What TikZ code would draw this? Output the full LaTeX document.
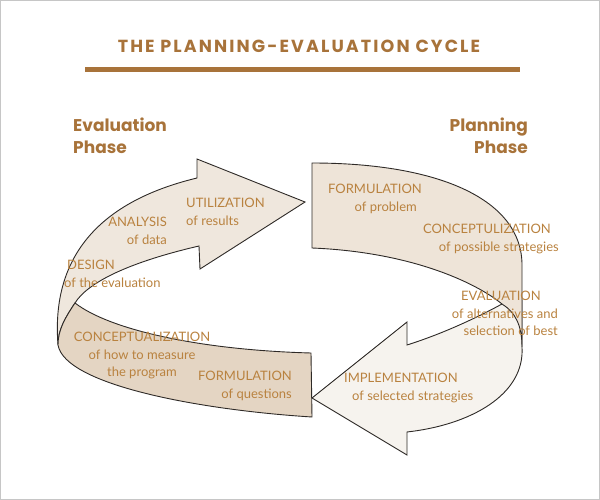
\documentclass[tikz,border=0pt]{standalone}
\usepackage{fontspec}
\setmainfont{Poppins}
\newfontfamily\titlefont[LetterSpace=12]{Poppins}
\newfontfamily\stagefont{Lato}

\definecolor{brownhead}{HTML}{A8733A}
\definecolor{browntext}{HTML}{B9823F}
\definecolor{lightfill}{HTML}{EFE7DD}
\definecolor{bandfill}{HTML}{EEE4D8}
\definecolor{darkfill}{HTML}{E4D5C3}
\definecolor{palefill}{HTML}{F6F3EE}
\definecolor{edgecol}{HTML}{2E2A27}

\begin{document}
\begin{tikzpicture}[x=1pt,y=-1pt,
    ribbon/.style={draw=edgecol,line width=0.9pt},
    stage text/.style={text=browntext,inner sep=0pt,font=\stagefont\fontsize{13}{17.5}\selectfont},
    phase text/.style={text=brownhead,inner sep=0pt,font=\bfseries\fontsize{17}{22}\selectfont}]
  \useasboundingbox (0,0) rectangle (600,500);
  \draw[gray!45,line width=1pt] (0.5,0.5) rectangle (599.5,499.5);

  % title and rule
  \node[text=brownhead,font=\titlefont\bfseries\fontsize{17.5}{20}\selectfont] (title) at (299,46) {THE PLANNING-EVALUATION CYCLE};
  \draw[brownhead,line width=5pt] (85,70) -- (520,70);

  % evaluation arrow (top left)
  \filldraw[ribbon,fill=lightfill] (58,345) .. controls (52,270) and (85,205) .. (197,178)
    -- (197,159) -- (305,202) -- (200,269) -- (199,246)
    .. controls (130,262) and (88,282) .. (75,303)
    .. controls (65,318) and (58,330) .. (58,345) -- cycle;
  % back of the ribbon (bottom left)
  \filldraw[ribbon,fill=darkfill] (75,303) .. controls (110,330) and (200,350) .. (311,353)
    -- (312,417) .. controls (200,410) and (65,385) .. (58,345)
    .. controls (58,330) and (65,318) .. (75,303) -- cycle;
  % planning arrow (bottom right)
  \filldraw[ribbon,fill=palefill] (312,398) -- (407,322) -- (407,345)
    .. controls (445,333) and (480,316) .. (502,304) -- (522,300) -- (522,347)
    .. controls (525,395) and (470,425) .. (407,432) -- (407,455) -- cycle;
  % planning band (top right)
  \filldraw[ribbon,fill=bandfill] (312,163) .. controls (440,163) and (522,200) .. (522,265)
    -- (522,347) .. controls (522,325) and (515,312) .. (502,304)
    .. controls (475,282) and (410,252) .. (312,248) -- cycle;

  % phase names
  \node[phase text,anchor=north west,align=left] (evalphase) at (73,118) {Evaluation\\Phase};
  \node[phase text,anchor=north east,align=right] (planphase) at (528,118) {Planning\\Phase};

  % stages
  \node[stage text,anchor=north west,align=left] (utilize) at (186,198) {UTILIZATION\\of results};
  \node[stage text,anchor=north east,align=right] (analyse) at (167,217) {ANALYSIS\\of data};
  \node[stage text,anchor=north west,align=left] (design) at (64,260) {\hspace*{3pt}DESIGN\\of the evaluation};
  \node[stage text,anchor=north,align=center] (concmeas) at (142,332) {CONCEPTUALIZATION\\of how to measure\\the program};
  \node[stage text,anchor=north east,align=right] (formq) at (292,371) {FORMULATION\\of questions};
  \node[stage text,anchor=north east,align=right] (formp) at (422,184) {FORMULATION\\of problem\hspace*{5pt}};
  \node[stage text,anchor=north east,align=right] (concstrat) at (559,224) {CONCEPTULIZATION\hspace*{8pt}\\of possible strategies};
  \node[stage text,anchor=north east,align=right] (evalalt) at (558,291) {EVALUATION\hspace*{17pt}\\of alternatives and\\selection of best};
  \node[stage text,anchor=north west,align=left] (implement) at (344,373) {IMPLEMENTATION\\\hspace*{8pt}of selected strategies};
\end{tikzpicture}
\end{document}
